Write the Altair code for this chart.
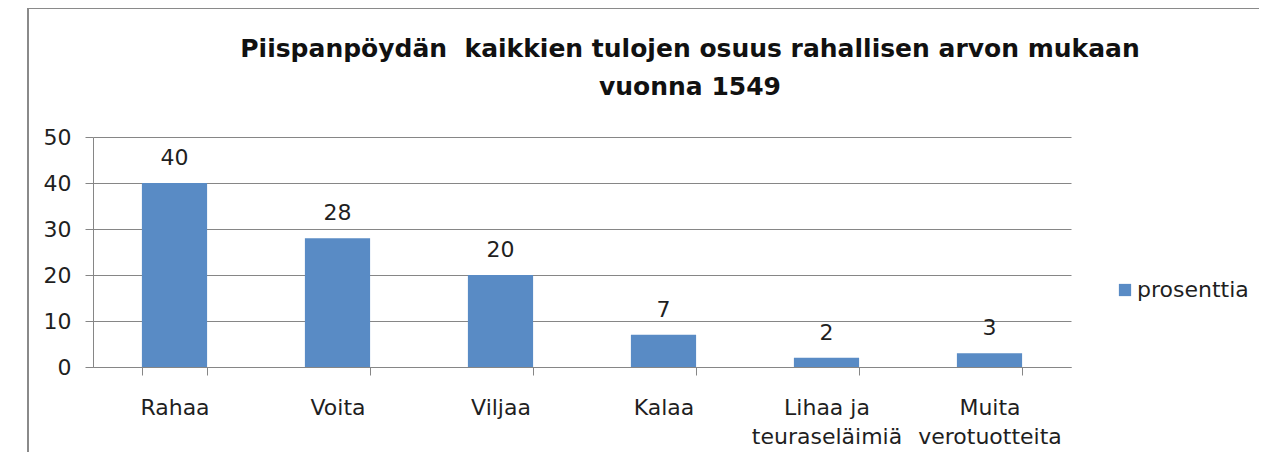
import altair as alt
import pandas as pd

categories = ["Rahaa", "Voita", "Viljaa", "Kalaa", "Lihaa ja teuraseläimiä", "Muita verotuotteita"]
values = [40, 28, 20, 7, 2, 3]
series_name = "prosenttia"
y_ticks = [0, 10, 20, 30, 40, 50]
title_lines = ["Piispanpöydän\u00a0 kaikkien tulojen osuus rahallisen arvon mukaan", "vuonna 1549"]

df = pd.DataFrame({"kategoria": categories, "arvo": values, "sarja": [series_name] * len(categories)})

FONT = "DejaVu Sans"
FS = 22
TXT = "#1f1f1f"
GRID = "#868686"
BAR = "#598BC5"

W, H = 978, 230
PL, PT = 85, 129
SVG_W, SVG_H = 1251, 444

x = alt.X("kategoria:N", sort=categories, title=None,
          scale=alt.Scale(paddingInner=0.6, paddingOuter=0.3),
          axis=alt.Axis(labelAngle=0, tickBand="extent", tickSize=8, tickColor=GRID,
                        domainColor=GRID, labelFontSize=FS, labelFont=FONT, labelColor=TXT,
                        labelPadding=22, labelLineHeight=29,
                        labelExpr="datum.label == 'Lihaa ja teuraseläimiä' ? ['Lihaa ja', 'teuraseläimiä'] : split(datum.label, ' ')"))
y = alt.Y("arvo:Q", title=None,
          scale=alt.Scale(domain=[0, 50]),
          axis=alt.Axis(values=y_ticks, tickSize=8, tickColor=GRID, domainColor=GRID,
                        gridColor=GRID, labelFontSize=FS, labelFont=FONT, labelColor=TXT,
                        labelPadding=14))

bars = alt.Chart(df).mark_bar(color=BAR).encode(
    x=x, y=y,
    color=alt.Color("sarja:N", title=None,
                    scale=alt.Scale(range=[BAR]),
                    legend=alt.Legend(orient="none", legendX=1021, legendY=142,
                                      symbolType="square", symbolSize=150, labelOffset=1,
                                      labelFontSize=FS, labelFont=FONT, labelColor=TXT,
                                      symbolStrokeWidth=0, symbolOpacity=1))
)

labels = alt.Chart(df).mark_text(dy=-13, fontSize=FS, font=FONT, color=TXT, baseline="bottom").encode(
    x=alt.X("kategoria:N", sort=categories), y="arvo:Q", text="arvo:Q"
)

frame = alt.Chart(alt.Data(values=[{}])).mark_rect(fillOpacity=0, stroke="#8a8a8a", strokeWidth=2).encode(
    x=alt.value(-PL + 20), x2=alt.value(SVG_W + 50),
    y=alt.value(-PT), y2=alt.value(SVG_H + 50)
)

chart = alt.layer(frame, bars, labels).properties(
    width=W, height=H,
    title=alt.Title(title_lines, fontSize=25, font=FONT, fontWeight="bold", color="#111111",
                    anchor="middle", frame="group", dx=108, offset=-93, lineHeight=38),
    autosize=alt.AutoSizeParams(type="none"),
    padding={"left": PL, "top": PT, "right": SVG_W - PL - W, "bottom": SVG_H - PT - H},
).configure_view(stroke=None).configure_axis(grid=True).configure_axisX(grid=False)

chart.save("out.html", embed_options={"renderer": "svg", "actions": False})
